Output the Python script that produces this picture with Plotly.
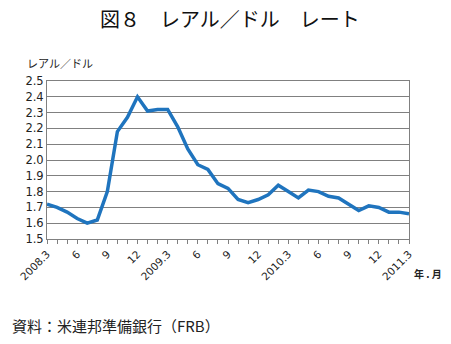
import plotly.graph_objects as go

months = list(range(37))
rate = [1.72, 1.70, 1.67, 1.63, 1.60, 1.62, 1.80, 2.18, 2.27, 2.40, 2.31, 2.32, 2.32,
        2.21, 2.07, 1.97, 1.94, 1.85, 1.82, 1.75, 1.73, 1.75, 1.78, 1.84, 1.80, 1.76,
        1.81, 1.80, 1.77, 1.76, 1.72, 1.68, 1.71, 1.70, 1.67, 1.67, 1.66]
tick_pos = [0, 3, 6, 9, 12, 15, 18, 21, 24, 27, 30, 33, 36]
tick_text = ["2008.3", "6", "9", "12", "2009.3", "6", "9", "12", "2010.3", "6", "9", "12", "2011.3"]
y_ticks = [1.5, 1.6, 1.7, 1.8, 1.9, 2.0, 2.1, 2.2, 2.3, 2.4, 2.5]

FONT = "Noto Sans CJK JP"
NUMFONT = "DejaVu Sans"

fig = go.Figure()
fig.add_trace(go.Scatter(x=months, y=rate, mode="lines",
                         line=dict(color="#1F74BE", width=3.5), hoverinfo="skip"))

fig.update_layout(
    width=451, height=344,
    margin=dict(l=47, r=42, t=81, b=105),
    paper_bgcolor="white", plot_bgcolor="white",
    showlegend=False,
    font=dict(family=FONT, color="#222222", size=11),
)
fig.update_xaxes(
    range=[0, 36], tickmode="array", tickvals=tick_pos, ticktext=tick_text,
    tickangle=-45, ticks="outside", ticklen=4, tickcolor="#808080",
    minor=dict(dtick=1, tick0=0, ticks="outside", ticklen=4, tickcolor="#808080"),
    showgrid=False, showline=True, linecolor="#808080", linewidth=1, mirror=True,
    tickfont=dict(size=10.5, family=NUMFONT, color="#222222"), zeroline=False,
)
fig.update_yaxes(
    range=[1.5, 2.5], tickmode="array", tickvals=y_ticks,
    ticktext=[f"{v:.1f}" for v in y_ticks],
    showgrid=True, gridcolor="#808080", gridwidth=1,
    showline=True, linecolor="#808080", linewidth=1, mirror=True,
    ticks="", tickfont=dict(size=11.5, family=NUMFONT, color="#222222"), zeroline=False,
)

fig.add_annotation(text="図８　レアル／ドル　レート", xref="paper", yref="paper",
                   x=0.505, y=1.0, yshift=63, xanchor="center", yanchor="middle",
                   showarrow=False, font=dict(size=20, family=FONT, color="#111111"))
fig.add_annotation(text="レアル／ドル", xref="paper", yref="paper",
                   x=0, xshift=-22, y=1.0, yshift=18, xanchor="left", yanchor="middle",
                   showarrow=False, font=dict(size=11, family=FONT, color="#222222"))
fig.add_annotation(text="<b>年 . 月</b>", xref="paper", yref="paper",
                   x=1.0, xshift=3, y=0, yshift=-34, xanchor="left", yanchor="middle",
                   showarrow=False, font=dict(size=10, family=FONT, color="#222222"))
fig.add_annotation(text="資料：米連邦準備銀行（FRB）", xref="paper", yref="paper",
                   x=0, xshift=-37, y=0, yshift=-86, xanchor="left", yanchor="middle",
                   showarrow=False, font=dict(size=15, family=FONT, color="#222222"))

fig.write_html("out.html")
